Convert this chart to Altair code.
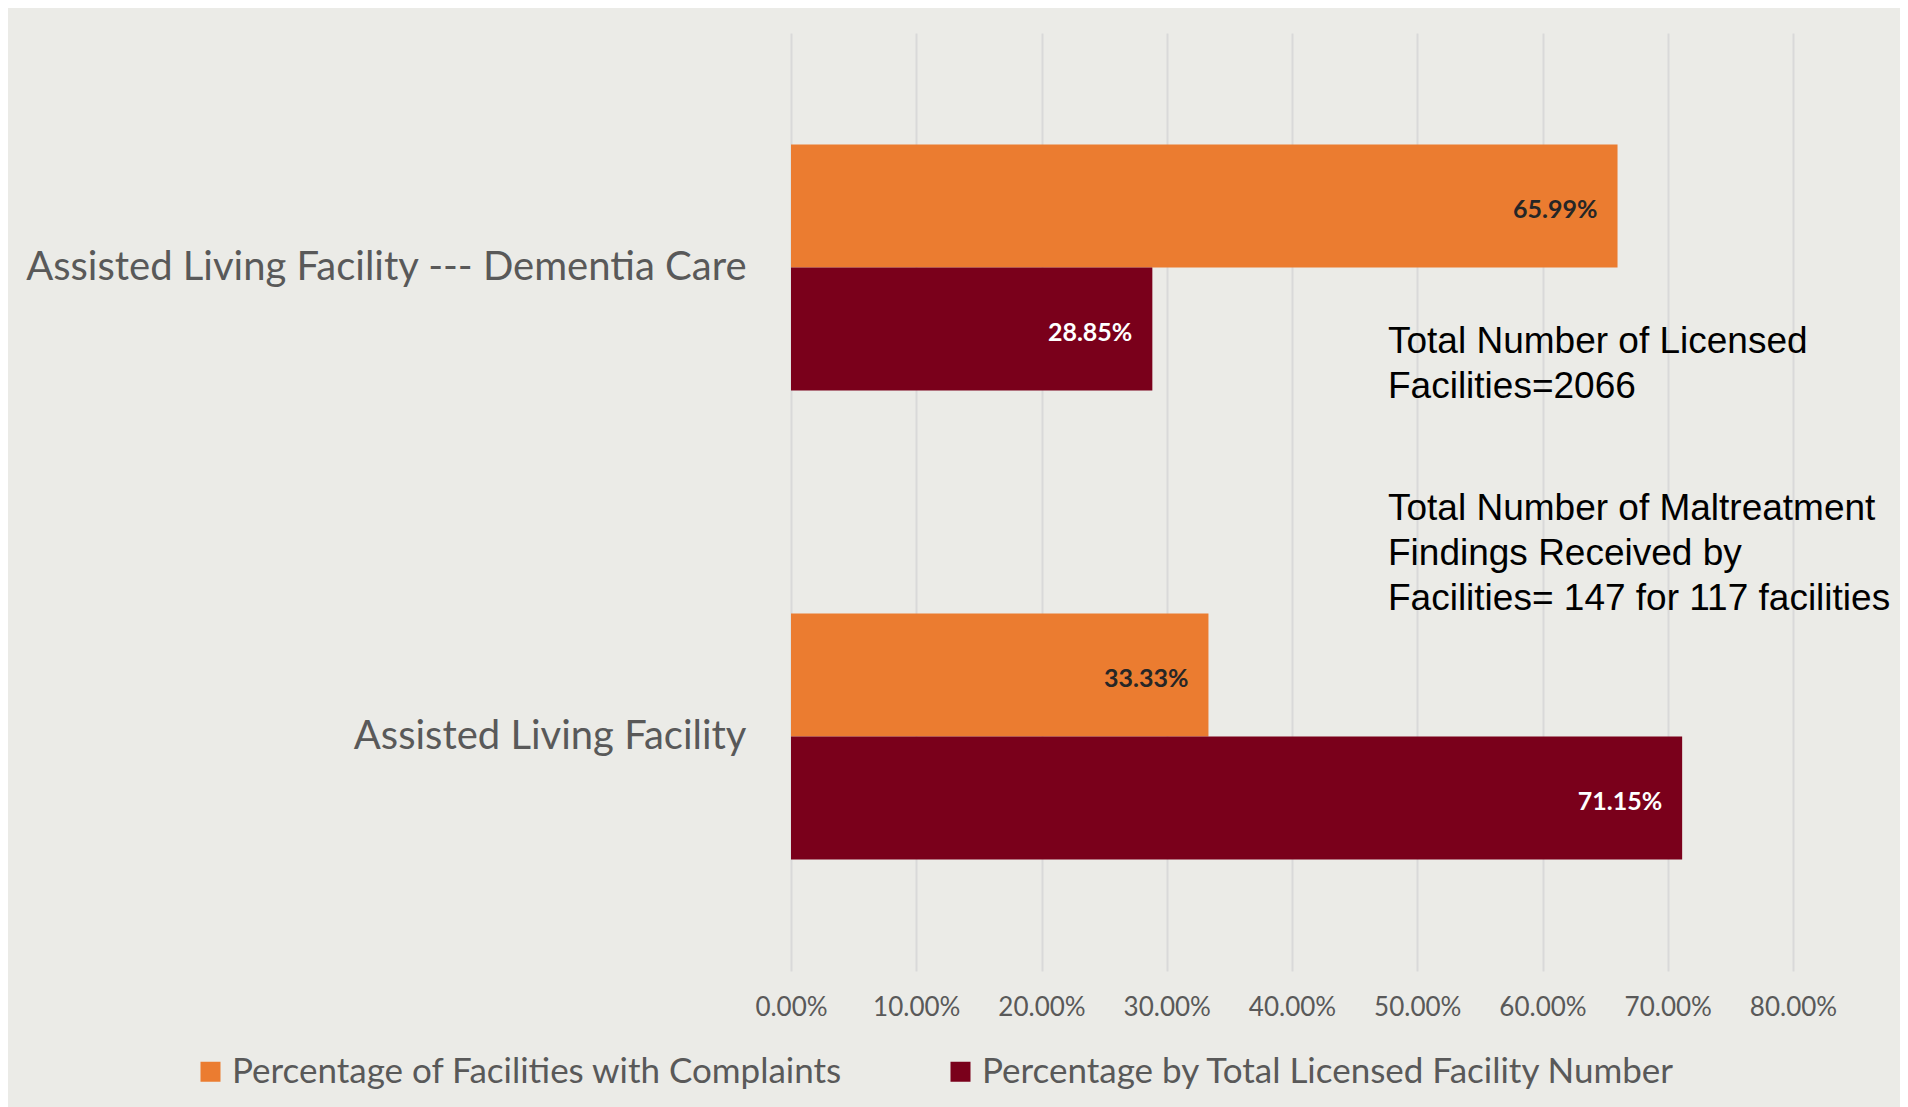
import altair as alt
import pandas as pd

categories = ["Assisted Living Facility --- Dementia Care", "Assisted Living Facility"]
series = ["Percentage of Facilities with Complaints", "Percentage by Total Licensed Facility Number"]
complaints = [65.99, 33.33]
licensed = [28.85, 71.15]
x_ticks = [0, 10, 20, 30, 40, 50, 60, 70, 80]
notes = [
    "Total Number of Licensed\nFacilities=2066",
    "Total Number of Maltreatment\nFindings Received by\nFacilities= 147 for 117 facilities",
]
colors = ["#EB7C30", "#7A001B"]

rows = []
for i, c in enumerate(categories):
    rows.append({"category": c, "series": series[0], "value": complaints[i]})
    rows.append({"category": c, "series": series[1], "value": licensed[i]})
df = pd.DataFrame(rows)

FONT = "Lato"
GRAY = "#595959"

base = alt.Chart(df).encode(
    y=alt.Y(
        "category:N",
        sort=categories,
        scale=alt.Scale(paddingInner=0.475, paddingOuter=0.2375),
        axis=alt.Axis(
            title=None, domain=False, ticks=False, tickSize=0, labelPadding=45,
            labelFontSize=40, labelFont=FONT, labelColor=GRAY, labelLimit=900, grid=False,
        ),
    ),
    yOffset=alt.YOffset("series:N", sort=series, scale=alt.Scale(paddingInner=0, paddingOuter=0)),
    x=alt.X(
        "value:Q",
        scale=alt.Scale(domain=[0, 80], nice=False),
        axis=alt.Axis(
            title=None, values=x_ticks, labelExpr="format(datum.value, '.2f') + '%'",
            domain=False, ticks=False, tickSize=0, grid=True, gridColor="#D9D9D9", gridWidth=2,
            labelFontSize=26, labelFont=FONT, labelColor=GRAY, labelPadding=23,
            labelFlush=False, labelOverlap=False,
        ),
    ),
)

bars = base.mark_bar().encode(
    color=alt.Color(
        "series:N",
        sort=series,
        scale=alt.Scale(domain=series, range=colors),
        legend=alt.Legend(
            title=None, orient="none", legendX=-598, legendY=1021, direction="horizontal",
            columns=2, columnPadding=100, symbolType="square", symbolSize=400,
            symbolStrokeWidth=0, labelFontSize=35, labelFont=FONT, labelColor=GRAY,
            labelOffset=4, labelLimit=1000,
        ),
    )
)

labels = base.transform_calculate(
    label="format(datum.value, '.2f') + '%'"
).mark_text(
    align="right", baseline="middle", dx=-20, dy=4, font=FONT, fontWeight="bold", fontSize=25
).encode(
    text="label:N",
    color=alt.condition(alt.datum.series == series[1], alt.value("white"), alt.value("#262626")),
)

note1 = alt.Chart(pd.DataFrame({"note": [notes[0]]})).mark_text(
    align="left", baseline="alphabetic", lineBreak="\n", font="Liberation Sans",
    fontSize=37, lineHeight=45, color="black",
).encode(text="note:N", x=alt.value(597), y=alt.value(320))

note2 = alt.Chart(pd.DataFrame({"note": [notes[1]]})).mark_text(
    align="left", baseline="alphabetic", lineBreak="\n", font="Liberation Sans",
    fontSize=37, lineHeight=45, color="black",
).encode(text="note:N", x=alt.value(597), y=alt.value(487))

chart = alt.layer(bars, labels, note1, note2).properties(
    width=1002,
    height=938,
    autosize=alt.AutoSizeParams(type="none"),
    padding={"left": 783, "top": 25, "right": 107, "bottom": 136},
).configure(
    background="#EBEBE7",
).configure_view(stroke=None)

chart.save("out.html", embed_options={"renderer": "svg", "actions": False})
